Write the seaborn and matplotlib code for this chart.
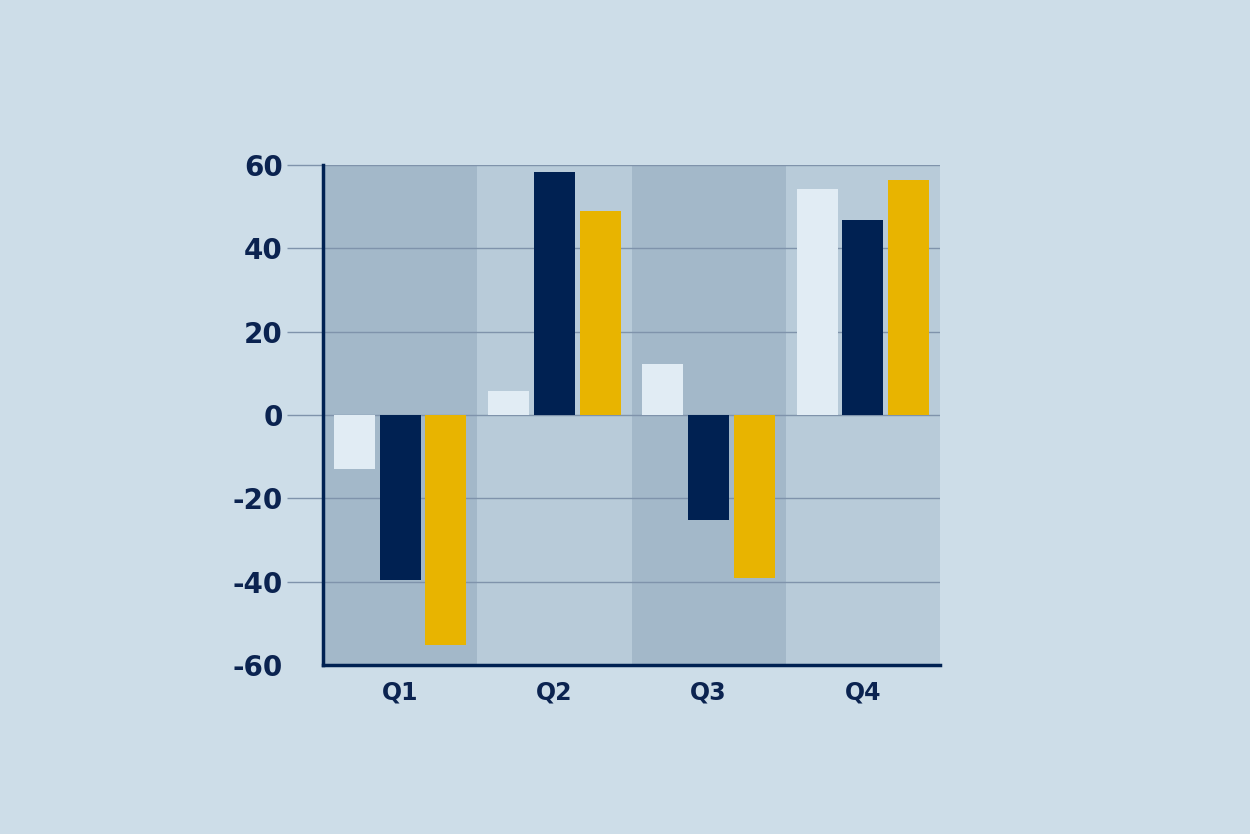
import matplotlib
matplotlib.use("Agg")
import matplotlib.pyplot as plt
import seaborn as sns
import pandas as pd

quarters = ["Q1", "Q2", "Q3", "Q4"]
series_names = ["A", "B", "C"]
series_a = [-13.0, 5.8, 12.2, 54.3]
series_b = [-39.6, 58.3, -25.2, 46.9]
series_c = [-55.1, 49.0, -39.2, 56.5]
y_ticks = [-60, -40, -20, 0, 20, 40, 60]

BG = "#cddde8"
BAND_DARK = "#a3b8c9"
BAND_LIGHT = "#b8cbd9"
GRID = "#7f93ab"
NAVY = "#002152"
YELLOW = "#e8b400"
LIGHT = "#e1ecf4"
TEXT = "#0b2350"

df = pd.DataFrame({
    "quarter": quarters * 3,
    "series": sum([[s] * 4 for s in series_names], []),
    "value": series_a + series_b + series_c,
})

sns.set_theme(style="white")
plt.rcParams["font.family"] = ["DejaVu Sans"]

fig = plt.figure(figsize=(12.5, 8.34), dpi=100, facecolor=BG)
ax = fig.add_axes([0.2584, 0.2026, 0.4936, 0.5995])
ax.set_facecolor(BAND_LIGHT)

for i in range(len(quarters)):
    if i % 2 == 0:
        ax.axvspan(i - 0.5, i + 0.5, color=BAND_DARK, zorder=0, lw=0)

for t in y_ticks:
    ax.axhline(t, color=GRID, lw=1.0, zorder=0.5)

sns.barplot(data=df, x="quarter", y="value", hue="series", order=quarters,
            hue_order=series_names, palette=[LIGHT, NAVY, YELLOW],
            width=0.89, gap=0.1, saturation=1, legend=False, ax=ax,
            zorder=2, linewidth=0)

ax.set_xlim(-0.5, 3.5)
ax.set_ylim(-60, 60)
ax.set_yticks(y_ticks)
ax.set_yticklabels([str(t) for t in y_ticks])
ax.set_xlabel("")
ax.set_ylabel("")

for s in ["top", "right"]:
    ax.spines[s].set_visible(False)
for s in ["left", "bottom"]:
    ax.spines[s].set_color(NAVY)
    ax.spines[s].set_linewidth(2.5)
    ax.spines[s].set_zorder(5)

ax.tick_params(axis="y", left=True, length=26, width=1.0, color=GRID, pad=3,
               labelsize=20, labelcolor=TEXT)
ax.tick_params(axis="x", bottom=False, length=0, pad=11, labelsize=17,
               labelcolor=TEXT)
ax.yaxis.get_major_ticks()[0].tick1line.set_visible(False)
for lab in ax.get_yticklabels() + ax.get_xticklabels():
    lab.set_fontweight("bold")

fig.savefig("out.png", dpi=100, facecolor=BG)
